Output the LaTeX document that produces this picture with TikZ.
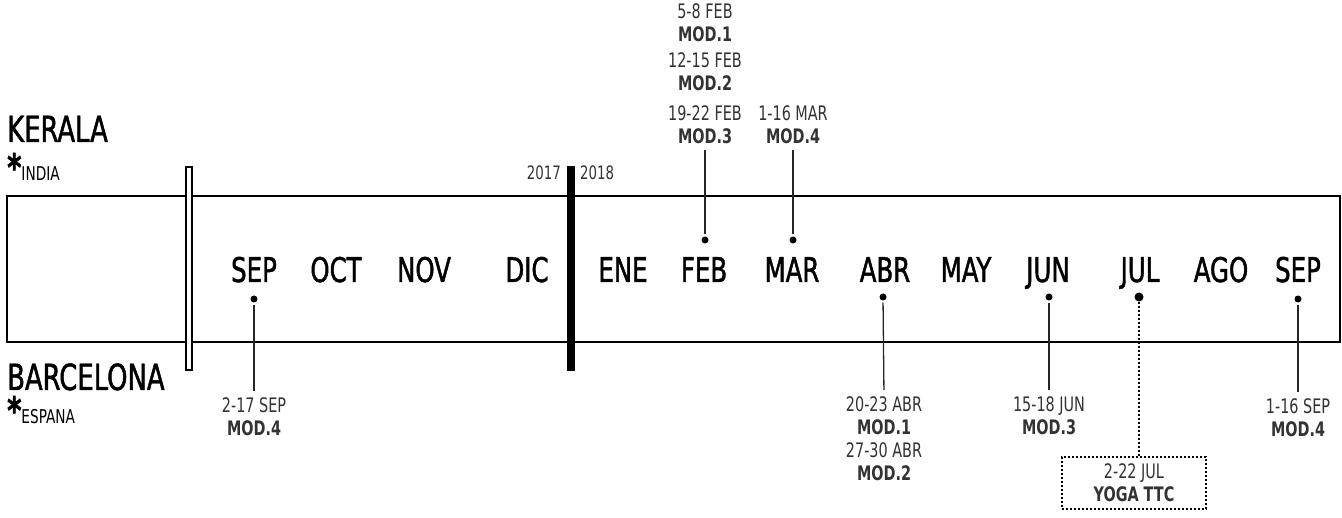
\documentclass[tikz,border=0pt]{standalone}
\usepackage{fontspec}
\setmainfont{DejaVu Sans Condensed}[FakeStretch=0.8]
\newfontfamily\heavyfont{DejaVu Sans Condensed}[FakeStretch=0.8, FakeBold=1.3]
\usetikzlibrary{positioning, calc}

\begin{document}
\begin{tikzpicture}[
			x=1pt, y=-1pt,
			% Style for the month names
			month/.style={
				anchor=base,
				inner sep=0pt,
				font=\heavyfont\fontsize{34}{34}\selectfont
			},
			% Style for the place names
			place/.style={
				anchor=base west,
				inner sep=0pt,
				font=\heavyfont\fontsize{36}{36}\selectfont
			},
			% Style for the dates and modules
			date/.style={
				inner sep=0pt,
				align=center,
				text=black!80,
				font=\fontsize{20}{23}\selectfont
			},
			year/.style={
				anchor=base,
				inner sep=0pt,
				text=black!80,
				font=\fontsize{18.5}{23}\selectfont
			},
			% Style for the event dots
			dot/.style={
				circle,
				fill=black,
				inner sep=0pt,
				minimum size=7pt
			},
			% Style for the connectors
			pin/.style={
				draw=black!85,
				line width=1.3pt,
				shorten <=2pt,
				shorten >=6pt
			},
			dotline/.style={
				draw=black,
				line width=2pt,
				dash pattern=on 2pt off 2pt
			}
			]
			
			\useasboundingbox (0,0) rectangle (1342,518);
			
			% --- FRAME ---
			\draw[line width=2.6pt] (7,196) rectangle (1340,342);
			\draw[line width=1.8pt, fill=white] (186,167) rectangle (192,370);
			\fill (567,166) rectangle (575,371);
			\node[year, anchor=base east] (Y17) at (561,180) {2017};
			\node[year, anchor=base west] (Y18) at (580,180) {2018};
			
			% --- PLACES ---
			\node[place] (Kerala) at (7,142) {KERALA};
			\node[place] (India) at (7,181) {{\bfseries\fontsize{38}{38}\selectfont *}{\normalfont\fontsize{19}{19}\selectfont INDIA}};
			\node[place] (Barcelona) at (7,390) {BARCELONA};
			\node[place] (Espana) at (7,424) {{\bfseries\fontsize{38}{38}\selectfont *}{\normalfont\fontsize{19}{19}\selectfont ESPANA}};
			
			% --- MONTHS ---
			\node[month] (SEPa) at (254,282) {SEP};
			\node[month] (OCT) at (336,282) {OCT};
			\node[month] (NOV) at (424,282) {NOV};
			\node[month] (DIC) at (527,282) {DIC};
			\node[month] (ENE) at (623,282) {ENE};
			\node[month] (FEB) at (704,282) {FEB};
			\node[month] (MAR) at (792,282) {MAR};
			\node[month] (ABR) at (885,282) {ABR};
			\node[month] (MAY) at (966,282) {MAY};
			\node[month] (JUN) at (1048,282) {JUN};
			\node[month] (JUL) at (1140,282) {JUL};
			\node[month] (AGO) at (1221,282) {AGO};
			\node[month] (SEPb) at (1298,282) {SEP};
			
			% --- DOTS ---
			\node[dot] (dSEPa) at (254,299) {};
			\node[dot] (dFEB) at (705,240) {};
			\node[dot] (dMAR) at (793,240) {};
			\node[dot] (dABR) at (883,297) {};
			\node[dot] (dJUN) at (1049,297) {};
			\node[dot, minimum size=9pt] (dJUL) at (1139,297) {};
			\node[dot] (dSEPb) at (1298,299) {};
			
			% --- DATES (KERALA) ---
			\node[date, anchor=south] (FEB3) at (705,144) {19-22 FEB\\\textbf{MOD.3}};
			\node[date, anchor=south, above=14pt of FEB3] (FEB2) {12-15 FEB\\\textbf{MOD.2}};
			\node[date, anchor=south, above=11pt of FEB2] (FEB1) {5-8 FEB\\\textbf{MOD.1}};
			\node[date, anchor=south] (MAR4) at (793,144) {1-16 MAR\\\textbf{MOD.4}};
			
			% --- DATES (BARCELONA) ---
			\node[date, anchor=north] (SEP4) at (254,397) {2-17 SEP\\\textbf{MOD.4}};
			\node[date, anchor=north] (ABR12) at (884,396) {20-23 ABR\\\textbf{MOD.1}\\27-30 ABR\\\textbf{MOD.2}};
			\node[date, anchor=north] (JUN3) at (1049,396) {15-18 JUN\\\textbf{MOD.3}};
			\node[date, anchor=north] (SEP4b) at (1298,398) {1-16 SEP\\\textbf{MOD.4}};
			\node[date, draw=black, line width=2pt, dash pattern=on 2pt off 2pt,
				minimum width=144pt, minimum height=52pt] (TTC) at (1134,483) {2-22 JUL\\\textbf{YOGA TTC}};
			
			% --- CONNECTORS ---
			\draw[pin] (dFEB) -- (FEB3.south);
			\draw[pin] (dMAR) -- (MAR4.south);
			\draw[pin] (dSEPa) -- (SEP4.north);
			\draw[pin] (dABR) -- (ABR12.north);
			\draw[pin] (dJUN) -- (JUN3.north);
			\draw[pin] (dSEPb) -- (SEP4b.north);
			\draw[dotline] (dJUL) -- (dJUL |- TTC.north);
			
		\end{tikzpicture}
\end{document}
